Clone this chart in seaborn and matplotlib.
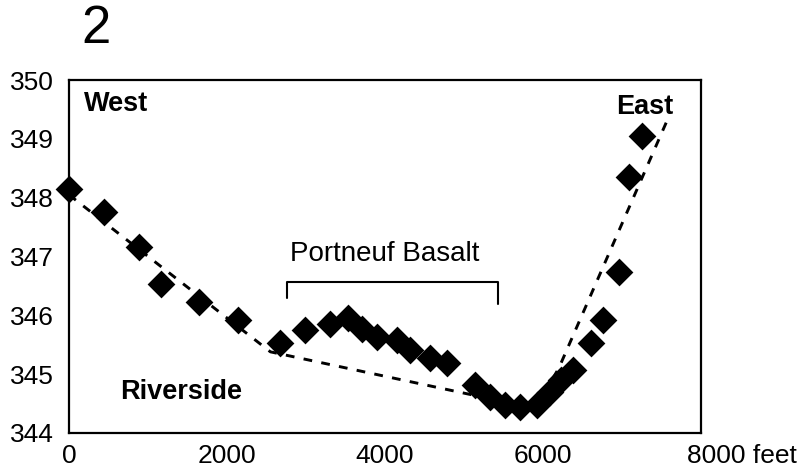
import matplotlib
matplotlib.use("Agg")
import matplotlib.pyplot as plt
import matplotlib.transforms as mtransforms
import seaborn as sns
import pandas as pd

# Water-table profile along the river corridor (distance in feet, elevation)
distance_ft = [0, 440, 890, 1165, 1645, 2140, 2670, 2990, 3300, 3530, 3710,
               3900, 4150, 4320, 4570, 4790, 5140, 5330, 5520, 5710, 5925,
               6090, 6230, 6380, 6610, 6760, 6960, 7090, 7250]
elevation = [348.15, 347.76, 347.16, 346.53, 346.23, 345.92, 345.53, 345.75,
             345.85, 345.95, 345.77, 345.63, 345.58, 345.41, 345.27, 345.19,
             344.82, 344.61, 344.48, 344.44, 344.48, 344.70, 344.90, 345.07,
             345.53, 345.92, 346.74, 348.35, 349.05]

# Hand-drawn trend line (dashed)
trend_x = [0, 2550, 5900, 6200, 7600]
trend_y = [348.05, 345.38, 344.42, 345.10, 349.40]

x_ticks = [0, 2000, 4000, 6000, 8000]
x_tick_labels = ["0", "2000", "4000", "6000", "8000 feet"]
y_ticks = [344, 345, 346, 347, 348, 349, 350]

# Extent of the Portneuf Basalt bracket
basalt_start, basalt_end = 2760, 5430
basalt_top, basalt_left_foot, basalt_right_foot = 346.57, 346.30, 346.20

sns.set_style("white")
plt.rcParams["font.family"] = ["Liberation Sans", "DejaVu Sans"]
plt.rcParams["text.color"] = "black"
plt.rcParams["xtick.color"] = "black"
plt.rcParams["ytick.color"] = "black"

fig = plt.figure(figsize=(8.02, 4.74), dpi=100)
ax = fig.add_axes([0.086, 0.0865, 0.788, 0.7445])

pts = pd.DataFrame({"distance": distance_ft, "elevation": elevation})
trend = pd.DataFrame({"distance": trend_x, "elevation": trend_y})

sns.lineplot(data=trend, x="distance", y="elevation", ax=ax, color="black",
             lw=2.1, linestyle=(0, (3.0, 3.2)), zorder=2)
sns.scatterplot(data=pts, x="distance", y="elevation", ax=ax, marker="D",
                s=200, color="black", linewidth=0, zorder=3, clip_on=False)

ax.set_xlim(0, 8000)
ax.set_ylim(344, 350)
ax.set_xticks(x_ticks)
ax.set_xticklabels(x_tick_labels)
ax.set_yticks(y_ticks)
ax.set_xlabel("")
ax.set_ylabel("")

for sp in ax.spines.values():
    sp.set_visible(True)
    sp.set_color("black")
    sp.set_linewidth(1.6)

ax.tick_params(axis="both", direction="in", length=7, width=1.3,
               colors="black", labelcolor="black", labelsize=19)
ax.tick_params(axis="y", pad=11)
ax.tick_params(axis="x", pad=8)

# last x label reads "8000 feet" and starts just left of its tick
last = ax.get_xticklabels()[-1]
last.set_horizontalalignment("left")
last.set_transform(last.get_transform() +
                   mtransforms.ScaledTranslation(-14 / 100, 0, fig.dpi_scale_trans))

# bracket over the basalt section
ax.plot([basalt_start, basalt_start, basalt_end, basalt_end],
        [basalt_left_foot, basalt_top, basalt_top, basalt_right_foot],
        color="black", lw=1.5, zorder=2)
ax.text((basalt_start + basalt_end) / 2 - 100, 347.05, "Portneuf Basalt",
        ha="center", va="center", fontsize=20)

ax.text(190, 349.6, "West", ha="left", va="center", fontsize=19.5,
        fontweight="bold")
ax.text(7650, 349.55, "East", ha="right", va="center", fontsize=19.5,
        fontweight="bold")
ax.text(650, 344.7, "Riverside", ha="left", va="center", fontsize=19.5,
        fontweight="bold")

fig.text(96 / 802, 1 - 29 / 474, "2", ha="center", va="center", fontsize=38)

fig.savefig("out.png", dpi=100)
